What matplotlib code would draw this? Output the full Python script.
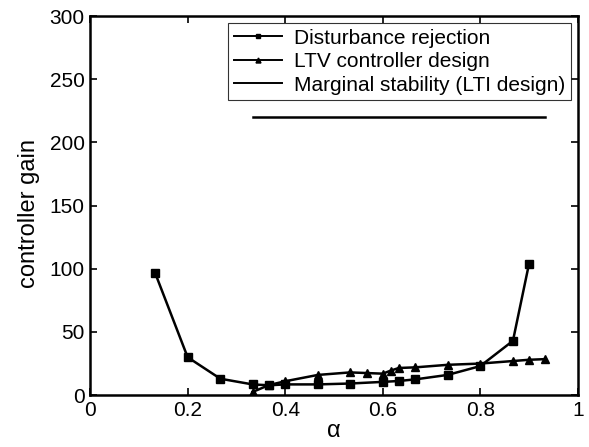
import matplotlib
matplotlib.use("Agg")
import matplotlib.pyplot as plt

plt.rcParams['font.family'] = ['Liberation Sans', 'DejaVu Sans']

# disturbance rejection (squares)
dist_alpha = [0.133, 0.2, 0.267, 0.333, 0.367, 0.4, 0.467, 0.533, 0.6, 0.633, 0.667, 0.733, 0.8, 0.867, 0.9]
dist_gain = [97, 30, 13, 8.5, 7.8, 8.5, 8.5, 9.2, 10.5, 11.2, 12.5, 16, 23, 43, 104]

# LTV controller design (triangles)
ltv_alpha = [0.333, 0.367, 0.4, 0.467, 0.533, 0.567, 0.6, 0.617, 0.633, 0.667, 0.733, 0.8, 0.867, 0.9, 0.933]
ltv_gain = [2.5, 8, 11, 16, 18, 17.5, 17, 19.5, 21.5, 22, 24, 25, 27, 28, 28.5]

# marginal stability (LTI design)
lti_alpha = [0.333, 0.933]
lti_gain = [220, 220]

fig = plt.figure(figsize=(5.89, 4.47), dpi=100)
ax = fig.add_axes([0.153, 0.116, 0.828, 0.848])

ax.plot(dist_alpha, dist_gain, color='black', lw=1.8, marker='s', markersize=5.5,
        label='Disturbance rejection')
ax.plot(ltv_alpha, ltv_gain, color='black', lw=1.8, marker='^', markersize=6,
        label='LTV controller design')
ax.plot(lti_alpha, lti_gain, color='black', lw=1.8,
        label='Marginal stability (LTI design)')

ax.set_xlim(0, 1)
ax.set_ylim(0, 300)
ax.set_xticks([0, 0.2, 0.4, 0.6, 0.8, 1])
ax.set_xticklabels(['0', '0.2', '0.4', '0.6', '0.8', '1'])
ax.set_yticks(range(0, 301, 50))
ax.tick_params(direction='in', top=True, right=True, labelsize=15, width=1.2, length=5, pad=4)
for s in ax.spines.values():
    s.set_linewidth(1.8)

ax.set_xlabel('α', fontsize=17, labelpad=0)
ax.set_ylabel('controller gain', fontsize=17)
ax.yaxis.set_label_coords(-0.103, 0.48)

leg = ax.legend(loc='upper right', fontsize=15, frameon=True, fancybox=False,
                edgecolor='black', borderpad=0.25, labelspacing=0.22,
                handlelength=2.3, handletextpad=0.6, markerscale=0.6,
                borderaxespad=0.35)
leg.get_frame().set_linewidth(0.8)
for h in leg.legend_handles:
    h.set_linewidth(1.4)

plt.savefig('out.png')
